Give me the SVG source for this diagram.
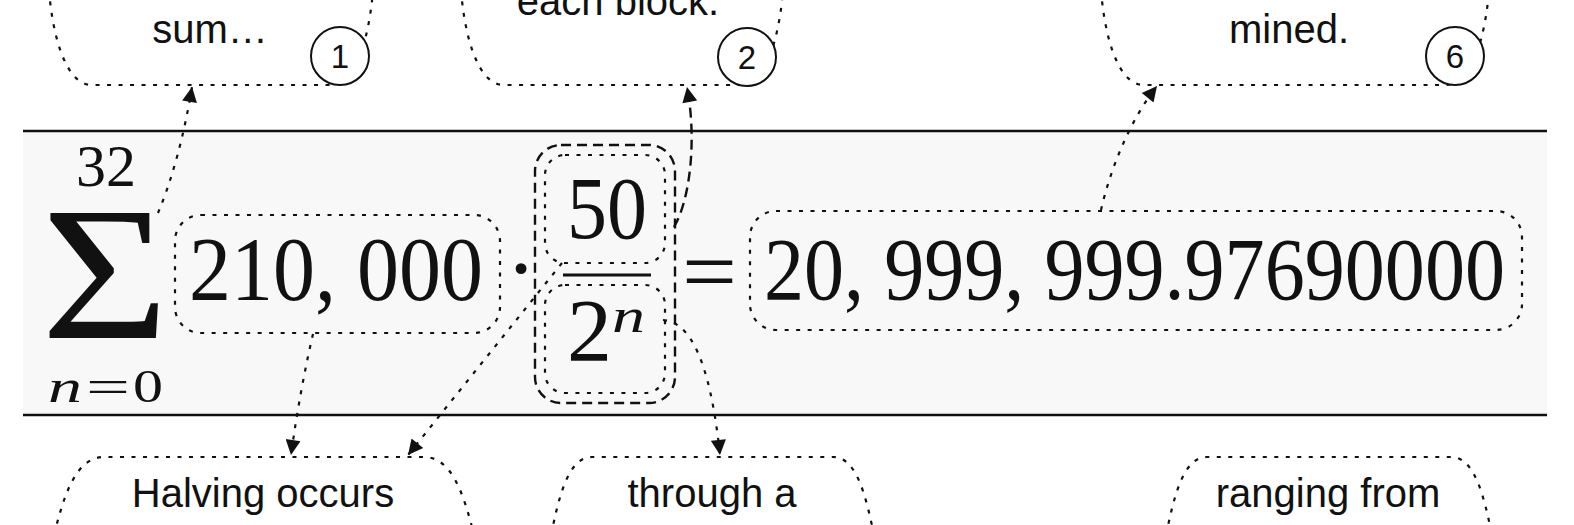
<svg xmlns="http://www.w3.org/2000/svg" width="1574" height="525" viewBox="0 0 1574 525">
<defs>
<style>
.dot{fill:none;stroke:#111;stroke-width:2.2;stroke-dasharray:4 7.5;}
.dash{fill:none;stroke:#111;stroke-width:2.4;stroke-dasharray:10 6;}
.lbl{font-family:"Liberation Sans",Arial,sans-serif;font-size:40px;fill:#111;text-anchor:middle;}
.num{font-family:"Liberation Sans",Arial,sans-serif;font-size:33px;fill:#111;text-anchor:middle;}
.circ{fill:#fff;stroke:#111;stroke-width:2;}
.m{font-family:"Liberation Serif","Times New Roman",serif;fill:#111;}
.conn{fill:none;stroke:#111;stroke-width:2.2;stroke-dasharray:4 7.5;}
</style>
<marker id="ah" viewBox="0 0 10 10" refX="10" refY="5" markerWidth="18" markerHeight="15" markerUnits="userSpaceOnUse" orient="auto"><path d="M0,0 L10,5 L0,10 z" fill="#111"/></marker>
</defs>
<rect x="0" y="0" width="1574" height="525" fill="#fff"/>

<g id="band">
<rect x="23" y="131" width="1524" height="284" fill="#f8f8f8"/>
<line x1="23" y1="131" x2="1547" y2="131" stroke="#111" stroke-width="2.5"/>
<line x1="23" y1="415" x2="1547" y2="415" stroke="#111" stroke-width="2.5"/>
</g>

<g id="note1">
<path class="dot" d="M49,-10 C52,30 64,85 92,85 H330 C358,85 370,30 373,-10"/>
<text class="lbl" x="210" y="43">sum…</text>
<circle class="circ" cx="340" cy="56" r="29"/>
<text class="num" x="340" y="68">1</text>
</g>

<g id="note2">
<path class="dot" d="M461,-10 C464,30 476,85 504,85 H740 C768,85 780,30 783,-10"/>
<text class="lbl" x="618" y="15">each block.</text>
<circle class="circ" cx="747" cy="57" r="29"/>
<text class="num" x="747" y="69">2</text>
</g>

<g id="note6">
<path class="dot" d="M1101,-10 C1104,30 1116,85 1144,85 H1446 C1474,85 1486,30 1489,-10"/>
<text class="lbl" x="1289" y="43">mined.</text>
<circle class="circ" cx="1455" cy="56" r="29"/>
<text class="num" x="1455" y="68">6</text>
</g>

<g id="noteA">
<path class="dot" d="M54,535 C64,495 76,457 104,457 H424 C452,457 464,495 474,535"/>
<text class="lbl" x="263" y="507">Halving occurs</text>
</g>

<g id="noteB">
<path class="dot" d="M551,535 C559,497 568,457 592,457 H833 C857,457 866,497 874,535"/>
<text class="lbl" x="712" y="507">through a</text>
</g>

<g id="noteC">
<path class="dot" d="M1166,535 C1174,497 1183,457 1207,457 H1451 C1475,457 1484,497 1492,535"/>
<text class="lbl" x="1328" y="507">ranging from</text>
</g>

<g id="sum">
<text class="m" x="106" y="186" font-size="60" text-anchor="middle">32</text>
<text class="m" x="41" y="338" font-size="190" textLength="128" lengthAdjust="spacingAndGlyphs">Σ</text>
<text class="m" y="402" font-size="46"><tspan x="48" font-style="italic" textLength="34" lengthAdjust="spacingAndGlyphs">n</tspan><tspan x="86" textLength="44" lengthAdjust="spacingAndGlyphs">=</tspan><tspan x="133" textLength="30" lengthAdjust="spacingAndGlyphs">0</tspan></text>
</g>

<g id="term">
<rect class="dot" x="175" y="215" width="325" height="118" rx="26"/>
<text class="m" x="189" y="300" font-size="92" textLength="294" lengthAdjust="spacingAndGlyphs">210, 000</text>
</g>

<g id="cdot">
<text class="m" x="521" y="299" font-size="92" text-anchor="middle">·</text>
</g>

<g id="frac">
<rect class="dash" x="535" y="145" width="140" height="258" rx="26"/>
<g id="numer">
<rect class="dot" x="545" y="155" width="120" height="108" rx="20"/>
<text class="m" x="567" y="238" font-size="88" textLength="80" lengthAdjust="spacingAndGlyphs">50</text>
</g>
<line x1="563" y1="275" x2="651" y2="275" stroke="#111" stroke-width="3"/>
<g id="denom">
<rect class="dot" x="545" y="285" width="120" height="108" rx="20"/>
<text class="m" y="360" font-size="88"><tspan x="567" textLength="45" lengthAdjust="spacingAndGlyphs">2</tspan><tspan x="612" y="332" font-size="48" font-style="italic" textLength="33" lengthAdjust="spacingAndGlyphs">n</tspan></text>
</g>
</g>

<g id="eq">
<text class="m" x="682" y="301" font-size="88" textLength="55" lengthAdjust="spacingAndGlyphs">=</text>
</g>

<g id="result">
<rect class="dot" x="750" y="211" width="772" height="119" rx="26"/>
<text class="m" x="764" y="299" font-size="88" textLength="741" lengthAdjust="spacingAndGlyphs">20, 999, 999.97690000</text>
</g>

<g id="connectors">
<path class="conn" d="M158,213 Q180,160 192,87" marker-end="url(#ah)"/>
<path class="dash" d="M674,227 C690,200 697,140 687,87" marker-end="url(#ah)"/>
<path class="conn" d="M1101,210 C1110,170 1130,120 1157,86" marker-end="url(#ah)"/>
<path class="conn" d="M313,334 Q300,390 291,455" marker-end="url(#ah)"/>
<path class="conn" d="M562,263 L408,455" marker-end="url(#ah)"/>
<path class="conn" d="M663,320 C690,322 710,360 720,455" marker-end="url(#ah)"/>
</g>
</svg>
